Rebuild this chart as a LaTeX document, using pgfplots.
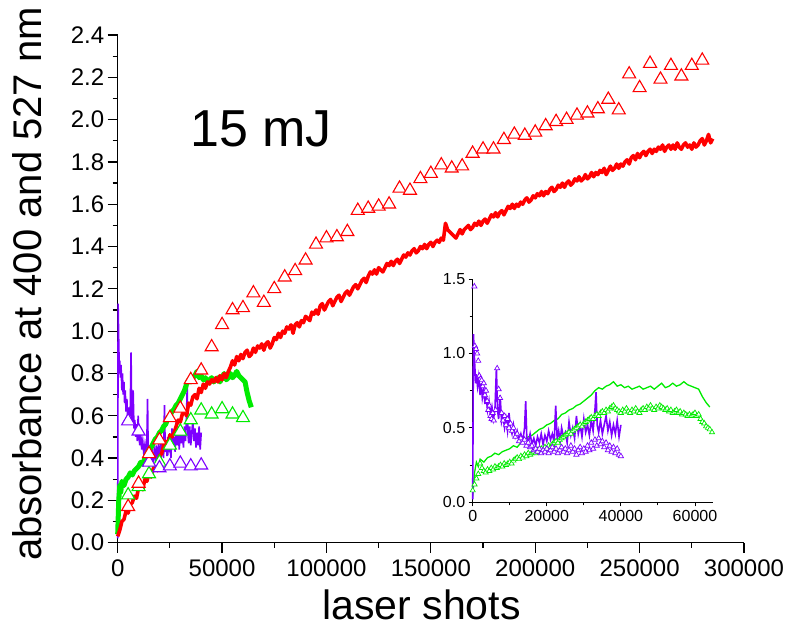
\documentclass[border=0pt]{standalone}
\usepackage{pgfplots}
\usepackage{pgfplotstable}
\pgfplotsset{compat=1.18}
\usepackage{fontspec}
\setmainfont{Liberation Sans}
\definecolor{myred}{RGB}{255,0,0}
\definecolor{mygreen}{RGB}{0,235,0}
\definecolor{mypurple}{RGB}{125,0,255}

\pgfplotstableread{
x y
0 0.04
500 0.20
1000 0.27
1500 0.24
2000 0.29
3000 0.27
4000 0.30
5000 0.31
6000 0.33
7000 0.32
8000 0.34
9000 0.35
10000 0.36
11000 0.38
12000 0.37
13000 0.40
14000 0.42
15000 0.44
16000 0.45
17000 0.47
18000 0.49
19000 0.50
20000 0.52
21000 0.53
22000 0.55
23000 0.56
24000 0.59
25000 0.60
26000 0.62
27000 0.63
28000 0.65
29000 0.66
30000 0.68
31000 0.70
32000 0.72
33000 0.75
34000 0.77
35000 0.76
36000 0.78
37000 0.79
38000 0.81
39000 0.78
40000 0.79
41000 0.77
42000 0.78
43000 0.76
44000 0.77
45000 0.78
46000 0.76
47000 0.77
48000 0.78
49000 0.76
50000 0.78
51000 0.80
52000 0.77
53000 0.78
54000 0.80
55000 0.78
56000 0.79
57000 0.81
58000 0.79
59000 0.78
60000 0.77
61000 0.76
62000 0.71
63000 0.67
64000 0.64
}\greenline

\pgfplotstableread{
x y
0 0.02
200 1.13
500 0.95
800 0.80
1000 0.86
1300 0.78
1600 0.84
2000 0.72
2300 0.80
2600 0.70
3000 0.76
3300 0.66
3600 0.72
4000 0.62
4400 0.68
4800 0.58
5200 0.64
5600 0.56
6000 0.62
6400 0.90
6700 0.62
7000 0.56
7400 0.72
7800 0.54
8200 0.58
8600 0.50
9000 0.56
9400 0.48
9800 0.60
10200 0.50
10600 0.46
11000 0.52
11500 0.44
12000 0.48
12500 0.42
13000 0.46
13500 0.41
14000 0.50
14300 0.68
14600 0.44
15000 0.40
15500 0.46
16000 0.39
16500 0.43
17000 0.38
17500 0.44
18000 0.40
18500 0.46
19000 0.39
19500 0.45
20000 0.41
20500 0.48
21000 0.42
21500 0.46
22000 0.40
22400 0.65
22800 0.43
23200 0.48
23600 0.41
24000 0.50
24500 0.44
25000 0.47
25500 0.40
26000 0.54
26500 0.45
27000 0.50
27500 0.43
28000 0.58
28500 0.46
29000 0.52
29500 0.44
30000 0.56
30500 0.47
31000 0.52
31500 0.45
32000 0.55
32500 0.48
33000 0.62
33300 0.74
33600 0.52
34000 0.47
34500 0.55
35000 0.46
35500 0.52
36000 0.58
36500 0.48
37000 0.54
37500 0.45
38000 0.52
38500 0.46
39000 0.55
39500 0.44
40000 0.52
}\purpleline

\begin{document}
\begin{tikzpicture}
\useasboundingbox (0,0) rectangle (788pt,625pt);
\begin{axis}[
  at={(117.7pt,82.3pt)}, anchor=south west,
  scale only axis, width=626.3pt, height=507.7pt,
  xmin=0, xmax=300000, ymin=0, ymax=2.4,
  axis lines=left, axis line style={-, line width=1.2pt},
  tick align=outside, major tick length=10pt, minor tick length=5pt,
  tick style={black, line width=1.2pt},
  xtick={0,50000,100000,150000,200000,250000,300000},
  ytick={0,0.2,0.4,0.6,0.8,1.0,1.2,1.4,1.6,1.8,2.0,2.2,2.4},
  minor x tick num=1, minor y tick num=1,
  scaled ticks=false,
  xticklabel style={yshift=-4pt, /pgf/number format/.cd, fixed, 1000 sep={}, assume math mode=true},
  yticklabel style={/pgf/number format/.cd, fixed, fixed zerofill, precision=1, assume math mode=true},
  tick label style={font=\fontsize{24}{26}\selectfont},
  clip=false,
]
\addplot[mypurple, line width=1.6pt, mark=none] table {\purpleline};
\addplot[mygreen, line width=5pt, mark=none, line join=round] table {\greenline};
\addplot[myred, line width=3.6pt, mark=none, line join=round] coordinates {
(0,0.03) (1000,0.06) (2000,0.10) (3000,0.11) (4000,0.15) (5000,0.14) (6000,0.18) (7000,0.19) (8000,0.22) (9000,0.21)
(10000,0.26) (11000,0.27) (12000,0.25) (13000,0.30) (14000,0.29) (15000,0.33) (16000,0.31) (17000,0.35) (18000,0.36) (19000,0.34)
(20000,0.41) (21000,0.42) (22000,0.46) (23000,0.48) (24000,0.46) (25000,0.51) (26000,0.50) (27000,0.52) (28000,0.55) (29000,0.58)
(30000,0.57) (31000,0.61) (32000,0.62) (33000,0.60) (34000,0.66) (35000,0.65) (36000,0.69) (37000,0.70) (38000,0.68) (39000,0.73)
(40000,0.71) (41000,0.75) (42000,0.73) (43000,0.76) (44000,0.75) (45000,0.77) (46000,0.76) (47000,0.78) (48000,0.76) (49000,0.79)
(50000,0.77) (51000,0.80) (52000,0.78) (53000,0.81) (54000,0.83) (55000,0.86) (56000,0.84) (57000,0.88) (58000,0.86) (59000,0.89)
(60000,0.87) (61000,0.90) (62000,0.91) (63000,0.88) (64000,0.89) (65000,0.92) (66000,0.90) (67000,0.93) (68000,0.92) (69000,0.94) (70000,0.91)
(71000,0.94) (72000,0.95) (73000,0.92) (74000,0.94) (75000,0.97) (76000,0.96) (77000,0.99) (78000,0.97) (79000,1.00)
(80000,0.99) (81000,1.02) (82000,1.01) (83000,1.03) (84000,0.99) (85000,1.03) (86000,1.04) (87000,1.02) (88000,1.05) (89000,1.04)
(90000,1.07) (91000,1.06) (92000,1.05) (93000,1.09) (94000,1.08) (95000,1.10) (96000,1.08) (97000,1.12) (98000,1.13) (99000,1.10)
(100000,1.12) (101000,1.14) (102000,1.15) (103000,1.12) (104000,1.14) (105000,1.16) (106000,1.17) (107000,1.14) (108000,1.16) (109000,1.18)
(110000,1.19) (111000,1.17) (112000,1.19) (113000,1.21) (114000,1.22) (115000,1.20) (116000,1.22) (117000,1.24) (118000,1.25) (119000,1.23)
(120000,1.26) (121000,1.28) (122000,1.27) (123000,1.29) (124000,1.27) (125000,1.30) (126000,1.29) (127000,1.28) (128000,1.30) (129000,1.32)
(130000,1.31) (131000,1.33) (132000,1.31) (133000,1.33) (134000,1.34) (135000,1.32) (136000,1.34) (137000,1.36) (138000,1.35) (139000,1.37)
(140000,1.36) (141000,1.38) (142000,1.39) (143000,1.37) (144000,1.38) (145000,1.40) (146000,1.39) (147000,1.41) (148000,1.39) (149000,1.41)
(150000,1.42) (151000,1.40) (152000,1.42) (153000,1.43) (154000,1.42) (155000,1.44) (156000,1.43) (157000,1.51) (158000,1.48)
(159000,1.47) (160000,1.46) (161000,1.45) (162000,1.44) (163000,1.46) (164000,1.48) (165000,1.46) (166000,1.48) (167000,1.49) (168000,1.50) (169000,1.48)
(170000,1.49) (171000,1.51) (172000,1.50) (173000,1.52) (174000,1.50) (175000,1.52) (176000,1.53) (177000,1.51) (178000,1.53) (179000,1.55)
(180000,1.54) (181000,1.56) (182000,1.54) (183000,1.56) (184000,1.57) (185000,1.55) (186000,1.57) (187000,1.59) (188000,1.58) (189000,1.60)
(190000,1.58) (191000,1.60) (192000,1.59) (193000,1.61) (194000,1.60) (195000,1.62) (196000,1.63) (197000,1.61) (198000,1.62) (199000,1.64)
(200000,1.63) (201000,1.65) (202000,1.64) (203000,1.66) (204000,1.64) (205000,1.66) (206000,1.65) (207000,1.67) (208000,1.68) (209000,1.66)
(210000,1.67) (211000,1.69) (212000,1.68) (213000,1.70) (214000,1.68) (215000,1.70) (216000,1.71) (217000,1.69) (218000,1.70) (219000,1.72)
(220000,1.71) (221000,1.73) (222000,1.71) (223000,1.72) (224000,1.74) (225000,1.72) (226000,1.73) (227000,1.75) (228000,1.73) (229000,1.75)
(230000,1.74) (231000,1.76) (232000,1.75) (233000,1.77) (234000,1.74) (235000,1.76) (236000,1.78) (237000,1.76) (238000,1.77) (239000,1.79)
(240000,1.77) (241000,1.79) (242000,1.78) (243000,1.80) (244000,1.81) (245000,1.79) (246000,1.82) (247000,1.83) (248000,1.81) (249000,1.84)
(250000,1.82) (251000,1.84) (252000,1.85) (253000,1.83) (254000,1.85) (255000,1.86) (256000,1.84) (257000,1.86) (258000,1.85) (259000,1.87)
(260000,1.86) (261000,1.88) (262000,1.85) (263000,1.87) (264000,1.88) (265000,1.86) (266000,1.88) (267000,1.86) (268000,1.89) (269000,1.87)
(270000,1.86) (271000,1.88) (272000,1.89) (273000,1.87) (274000,1.88) (275000,1.86) (276000,1.89) (277000,1.87) (278000,1.88) (279000,1.90)
(280000,1.91) (281000,1.88) (282000,1.90) (283000,1.93) (284000,1.89) (285000,1.91)
};
\addplot[only marks, mark=triangle*, mark size=7.5pt, mark options={draw=mygreen, fill=white, line width=1.1pt}] coordinates {
(5000,0.225) (10000,0.264) (15000,0.325) (20000,0.38) (25000,0.46) (30000,0.526) (35000,0.58) (40000,0.626) (45000,0.607) (50000,0.632) (55000,0.607) (60000,0.59)
};
\addplot[only marks, mark=triangle*, mark size=7.5pt, mark options={draw=mypurple, fill=white, line width=1.1pt}] coordinates {
(5000,0.575) (10000,0.527) (15000,0.38) (20000,0.353) (25000,0.362) (30000,0.375) (35000,0.362) (40000,0.366)
};
\addplot[only marks, mark=triangle*, mark size=7.5pt, mark options={draw=myred, fill=white, line width=1.1pt}] coordinates {
(5000,0.17) (10000,0.28) (15000,0.42) (20000,0.485) (25000,0.59) (30000,0.635) (35000,0.77) (40000,0.815) (45000,0.925)
(50000,1.03) (55000,1.10) (60000,1.11) (65000,1.18) (70000,1.135) (75000,1.20) (80000,1.255) (85000,1.285) (90000,1.335) (95000,1.41)
(100000,1.44) (105000,1.445) (110000,1.47) (115000,1.57) (120000,1.58) (125000,1.59) (130000,1.60) (135000,1.675) (140000,1.665) (145000,1.72)
(150000,1.745) (155000,1.785) (160000,1.77) (165000,1.78) (170000,1.84) (175000,1.86) (180000,1.86) (185000,1.905) (190000,1.93) (195000,1.925)
(200000,1.94) (205000,1.97) (210000,1.99) (215000,2.00) (220000,2.02) (225000,2.03) (230000,2.05) (235000,2.095) (240000,2.045) (245000,2.215)
(250000,2.15) (255000,2.265) (260000,2.19) (265000,2.255) (270000,2.205) (275000,2.255) (280000,2.28)
};
\end{axis}

\begin{axis}[
  at={(472.7pt,122.7pt)}, anchor=south west,
  scale only axis, width=240.8pt, height=223.3pt,
  xmin=0, xmax=65000, ymin=0, ymax=1.5,
  axis lines=left, axis line style={-, line width=1pt},
  tick align=outside, major tick length=4pt, minor tick length=3pt,
  tick style={black, line width=0.9pt},
  xtick={0,20000,40000,60000}, ytick={0,0.5,1.0,1.5},
  minor x tick num=1, minor y tick num=1,
  scaled ticks=false,
  xticklabel style={/pgf/number format/.cd, fixed, 1000 sep={}, assume math mode=true},
  yticklabel style={/pgf/number format/.cd, fixed, fixed zerofill, precision=1, assume math mode=true},
  tick label style={font=\fontsize{16}{18}\selectfont},
  clip=false,
]
\addplot[mygreen, line width=1.3pt, mark=none] table {\greenline};
\addplot[only marks, mark=triangle*, mark size=3pt, mark options={draw=mygreen, fill=white, line width=0.7pt}] coordinates {
(0,0.08) (500,0.12) (1000,0.16) (1500,0.19) (2000,0.26) (2500,0.23) (3000,0.21) (3500,0.20) (4000,0.22) (4500,0.21) (5000,0.23)
(5500,0.22) (6000,0.24) (6500,0.23) (7000,0.24) (7500,0.25) (8000,0.24) (8500,0.26) (9000,0.25) (9500,0.26) (10000,0.27)
(10500,0.26) (11000,0.28) (11500,0.29) (12000,0.30) (12500,0.29) (13000,0.31) (13500,0.30) (14000,0.32) (14500,0.31) (15000,0.33)
(15500,0.32) (16000,0.33) (16500,0.34) (17000,0.33) (17500,0.35) (18000,0.34) (18500,0.36) (19000,0.35) (19500,0.37) (20000,0.36)
(20500,0.38) (21000,0.37) (21500,0.39) (22000,0.40) (22500,0.41) (23000,0.40) (23500,0.42) (24000,0.43) (24500,0.44) (25000,0.45)
(25500,0.46) (26000,0.47) (26500,0.46) (27000,0.48) (27500,0.49) (28000,0.50) (28500,0.51) (29000,0.52) (29500,0.51) (30000,0.53)
(30500,0.54) (31000,0.55) (31500,0.56) (32000,0.57) (32500,0.56) (33000,0.58) (33500,0.59) (34000,0.58) (34500,0.60) (35000,0.61)
(35500,0.60) (36000,0.62) (36500,0.61) (37000,0.63) (37500,0.64) (38000,0.65) (38500,0.63) (39000,0.62) (39500,0.61) (40000,0.60)
(40500,0.62) (41000,0.61) (41500,0.63) (42000,0.61) (42500,0.60) (43000,0.62) (43500,0.61) (44000,0.63) (44500,0.61) (45000,0.60)
(45500,0.62) (46000,0.63) (46500,0.62) (47000,0.64) (47500,0.63) (48000,0.65) (48500,0.63) (49000,0.62) (49500,0.64) (50000,0.63)
(50500,0.65) (51000,0.64) (51500,0.63) (52000,0.62) (52500,0.63) (53000,0.61) (53500,0.62) (54000,0.60) (54500,0.61) (55000,0.62)
(55500,0.60) (56000,0.61) (56500,0.59) (57000,0.60) (57500,0.59) (58000,0.58) (58500,0.59) (59000,0.58) (59500,0.59) (60000,0.60)
(60500,0.58) (61000,0.59) (61500,0.56) (62000,0.54) (62500,0.53) (63000,0.51) (63500,0.50) (64000,0.49) (64600,0.47)
};
\addplot[mypurple, line width=1.6pt, mark=none] table {\purpleline};
\addplot[only marks, mark=triangle*, mark size=3pt, mark options={draw=mypurple, fill=white, line width=0.7pt}] coordinates {
(450,1.45) (600,1.05) (900,1.03) (1200,1.00) (1500,0.95) (1800,0.85) (2100,0.83) (2400,0.82) (2700,0.78) (3000,0.80)
(3300,0.72) (3600,0.75) (3900,0.68) (4200,0.62) (4500,0.65) (4800,0.58) (5100,0.56) (5400,0.60) (5700,0.55) (6200,0.62)
(6600,0.90) (7000,0.76) (7400,0.70) (7800,0.60) (8200,0.55) (8600,0.58) (9000,0.52) (9400,0.56) (9800,0.50) (10200,0.53)
(10600,0.48) (11000,0.50) (11500,0.44) (12000,0.46) (12500,0.41) (13000,0.43) (13500,0.40) (14000,0.42) (14500,0.38) (15000,0.40)
(15500,0.37) (16000,0.38) (16500,0.35) (17000,0.36) (17500,0.34) (18000,0.36) (18500,0.33) (19000,0.35) (19500,0.34) (20000,0.36)
(20500,0.33) (21000,0.35) (21500,0.37) (22000,0.34) (22500,0.36) (23000,0.33) (23500,0.35) (24000,0.37) (24500,0.34) (25000,0.36)
(25500,0.33) (26000,0.35) (26500,0.38) (27000,0.34) (27500,0.36) (28000,0.32) (28500,0.35) (29000,0.37) (29500,0.33) (30000,0.36)
(30500,0.34) (31000,0.38) (31500,0.35) (32000,0.40) (32500,0.36) (33000,0.42) (33500,0.38) (34000,0.43) (34500,0.39) (35000,0.41)
(35500,0.37) (36000,0.40) (36500,0.35) (37000,0.38) (37500,0.34) (38000,0.37) (38500,0.33) (39000,0.36) (39500,0.32) (40000,0.31)
};
\end{axis}

\node[rotate=90, anchor=base, inner sep=0pt, font=\fontsize{40}{44}\selectfont] at (41.7pt,341pt) {absorbance at 400 and 527 nm};
\node[anchor=base, inner sep=0pt, font=\fontsize{41}{45}\selectfont] at (421.5pt,6pt) {laser shots};
\node[anchor=base west, inner sep=0pt, font=\fontsize{52}{56}\selectfont] at (190pt,478.3pt) {15 mJ};
\end{tikzpicture}
\end{document}
